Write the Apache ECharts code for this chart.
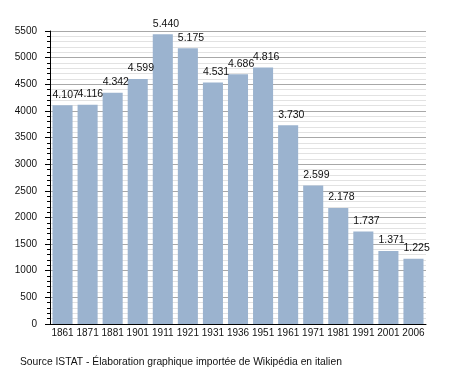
<!DOCTYPE html>
<html><head><meta charset="utf-8">
<script src="https://cdn.jsdelivr.net/npm/echarts@6/dist/echarts.min.js"></script>
<style>html,body{margin:0;padding:0;background:#fff}#c{width:455px;height:373px}</style>
</head><body><div id="c"></div>
<script>
const years = ['1861','1871','1881','1901','1911','1921','1931','1936','1951','1961','1971','1981','1991','2001','2006'];
const population = [4107,4116,4342,4599,5440,5175,4531,4686,4816,3730,2599,2178,1737,1371,1225];
const yMin = 0, yMax = 5500, yStep = 500;
const sourceText = 'Source ISTAT - Élaboration graphique importée de Wikipédia en italien';

function fmt(v){ const t = Math.floor(v/1000); const r = String(v%1000).padStart(3,'0'); return t>0 ? t+'.'+r : String(v); }

const chart = echarts.init(document.getElementById('c'), null, {renderer:'canvas'});
chart.setOption({
  animation:false,
  backgroundColor:'#fff',
  textStyle:{fontFamily:'Liberation Sans, Arial, sans-serif'},
  grid:{left:50,right:29,top:31,bottom:49,containLabel:false},
  graphic:[{type:'text',left:20,top:357,style:{text:sourceText,font:'10.3px "Liberation Sans", Arial, sans-serif',fill:'#111'}}],
  xAxis:{type:'category',data:years,
    axisLine:{lineStyle:{color:'#000',width:1}},
    axisTick:{show:false},
    axisLabel:{color:'#111',fontSize:10,margin:4,interval:0},
    splitLine:{show:false}},
  yAxis:{type:'value',min:yMin,max:yMax,interval:yStep,
    axisLine:{show:true,lineStyle:{color:'#000',width:1}},
    axisTick:{show:true,length:5,lineStyle:{color:'#000'}},
    minorTick:{show:true,splitNumber:5,length:3,lineStyle:{color:'#000'}},
    axisLabel:{color:'#111',fontSize:10,margin:13,formatter:v=>String(v)},
    splitLine:{show:true,lineStyle:{color:'#a8a8a8',width:1}},
    minorSplitLine:{show:true,lineStyle:{color:'#e2e2e2',width:1}}},
  series:[{type:'bar',data:population,barCategoryGap:'20%',
    itemStyle:{color:'#9bb3cf'},
    label:{show:true,position:'top',distance:5,align:'left',offset:[-10,0],
      color:'#111',fontSize:10.5,formatter:p=>fmt(p.value)}}]
});
</script></body></html>
